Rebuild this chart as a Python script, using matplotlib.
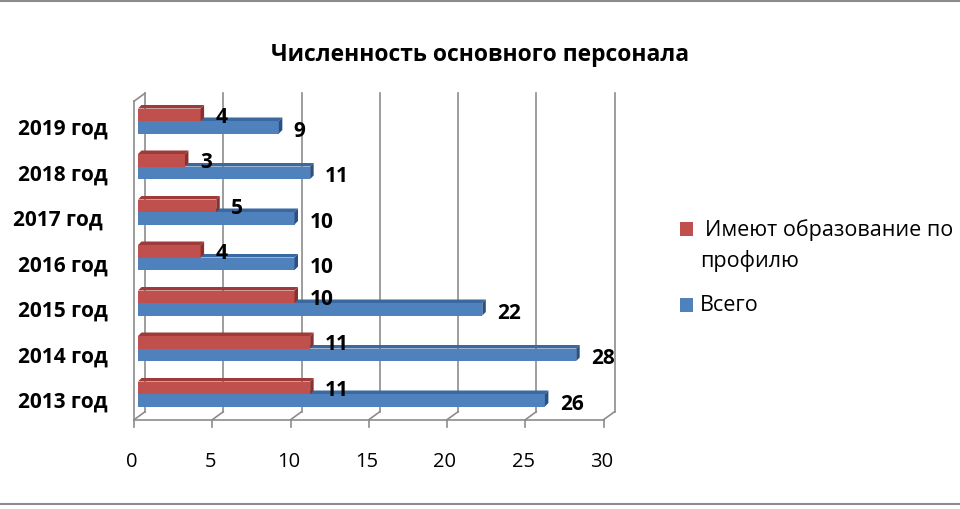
import matplotlib
matplotlib.use("Agg")
import matplotlib.pyplot as plt
from matplotlib.transforms import offset_copy
from matplotlib.patches import Polygon, Rectangle
from matplotlib.lines import Line2D

plt.rcParams['font.family'] = ['Open Sans', 'DejaVu Sans']

# ---- data ----
categories = ["2013 год", "2014 год", "2015 год", "2016 год", "2017 год ", "2018 год", "2019 год"]
profile = [11, 11, 10, 4, 5, 3, 4]        # Имеют образование по профилю
total = [26, 28, 22, 10, 10, 11, 9]       # Всего
xticks = [0, 5, 10, 15, 20, 25, 30]
title = "Численность основного персонала"
legend_labels = ["Имеют образование по", "профилю", "Всего"]

RED, RED_TOP, RED_SIDE = "#C0504D", "#9E3B38", "#8A302D"
BLUE, BLUE_TOP, BLUE_SIDE = "#4F81BD", "#3A68A0", "#2B5082"
GRID = "#8C8C8C"

W, H = 960, 510
fig = plt.figure(figsize=(9.6, 5.1), dpi=100)

# plane of the bars (pixel geometry)
x0, x1 = 138, 607.5
ytop, ybot = 99.25, 417.75
ax = fig.add_axes([x0 / W, 1 - ybot / H, (x1 - x0) / W, (ybot - ytop) / H])
ax.set_xlim(0, 30)
ax.set_ylim(-0.5, 6.5)
ax.axis("off")

sx = (x1 - x0) / 30.0
sy = (ybot - ytop) / 7.0

def px(dx, dy):
    """pixel offset -> data offset (dy positive = up)"""
    return dx / sx, dy / sy

# walls / floor
bdx, bdy = px(7, 5)      # back wall offset
fdx, fdy = px(-4, -3)    # front plane offset
tickd = 7 / sy
lw = 1.2
for t in xticks:
    ax.plot([t + bdx, t + bdx], [-0.5 + bdy, 6.5 + bdy], color=GRID, lw=lw, clip_on=False, zorder=0)
    ax.plot([t + fdx, t + bdx], [-0.5 + fdy, -0.5 + bdy], color=GRID, lw=lw, clip_on=False, zorder=0)
    ax.plot([t + fdx, t + fdx], [-0.5 + fdy, -0.5 + fdy - tickd], color=GRID, lw=lw, clip_on=False, zorder=0)
ax.plot([0 + fdx, 30 + fdx], [-0.5 + fdy, -0.5 + fdy], color=GRID, lw=lw, clip_on=False, zorder=0)
ax.plot([0 + fdx, 0 + fdx], [-0.5 + fdy, 6.5 + fdy], color=GRID, lw=lw, clip_on=False, zorder=0)
ax.plot([0 + fdx, 0 + bdx], [6.5 + fdy, 6.5 + bdy], color=GRID, lw=lw, clip_on=False, zorder=0)

# bars
bh = 12.5 / sy
ddx, ddy = px(3.5, 3.5)

def bar3d(yc, v, face, top, side, z):
    yb, yt = yc - bh / 2, yc + bh / 2
    ax.add_patch(Rectangle((0, yb), v, bh, facecolor=face, edgecolor="none", zorder=z))
    ax.add_patch(Polygon([(0, yt), (v, yt), (v + ddx, yt + ddy), (ddx, yt + ddy)],
                         closed=True, facecolor=top, edgecolor="none", zorder=z))
    ax.add_patch(Polygon([(v, yb), (v, yt), (v + ddx, yt + ddy), (v + ddx, yb + ddy)],
                         closed=True, facecolor=side, edgecolor="none", zorder=z))

for i in range(len(categories)):
    bar3d(i - bh / 2, total[i], BLUE, BLUE_TOP, BLUE_SIDE, 2 + i * 0.01)
    bar3d(i + bh / 2, profile[i], RED, RED_TOP, RED_SIDE, 3 + i * 0.01)

# value labels
for i in range(len(categories)):
    ax.text(profile[i], i + bh / 2, str(profile[i]),
            transform=offset_copy(ax.transData, fig=fig, x=15, y=-1.5, units="dots"),
            ha="left", va="center", fontsize=15, fontweight="bold", color="black", zorder=5)
    ax.text(total[i], i - bh / 2, str(total[i]),
            transform=offset_copy(ax.transData, fig=fig, x=15, y=-3, units="dots"),
            ha="left", va="center", fontsize=15, fontweight="bold", color="black", zorder=5)

# category labels
for i, c in enumerate(categories):
    ax.text(0, i, c, transform=offset_copy(ax.transData, fig=fig, x=-30, y=-13, units="dots"),
            ha="right", va="baseline", fontsize=15, fontweight="bold", color="black")

# x tick labels
for t in xticks:
    ax.text(t, -0.5, str(t), transform=offset_copy(ax.transData, fig=fig, x=-6, y=-44, units="dots"),
            ha="center", va="center", fontsize=14.5, color="black")

# title
fig.text(480 / W, 1 - 55 / H, title, ha="center", va="center", fontsize=16.5, fontweight="bold")

# legend
fig.add_artist(Rectangle((680 / W, 1 - 237 / H), 13 / W, 14 / H, transform=fig.transFigure,
                         facecolor=RED, edgecolor="none"))
fig.add_artist(Rectangle((680 / W, 1 - 313 / H), 13 / W, 14 / H, transform=fig.transFigure,
                         facecolor=BLUE, edgecolor="none"))
fig.text(705 / W, 1 - 230 / H, legend_labels[0], ha="left", va="center", fontsize=15.5)
fig.text(700 / W, 1 - 261 / H, legend_labels[1], ha="left", va="center", fontsize=15.5)
fig.text(700 / W, 1 - 306 / H, legend_labels[2], ha="left", va="center", fontsize=15.5)

# chart border lines
fig.add_artist(Line2D([0, 1], [1 - 2 / H, 1 - 2 / H], transform=fig.transFigure, color="#8C8C8C", lw=1.5))
fig.add_artist(Line2D([0, 1], [1 - 505 / H, 1 - 505 / H], transform=fig.transFigure, color="#8C8C8C", lw=1.5))

fig.savefig("out.png", dpi=100, facecolor="white")
